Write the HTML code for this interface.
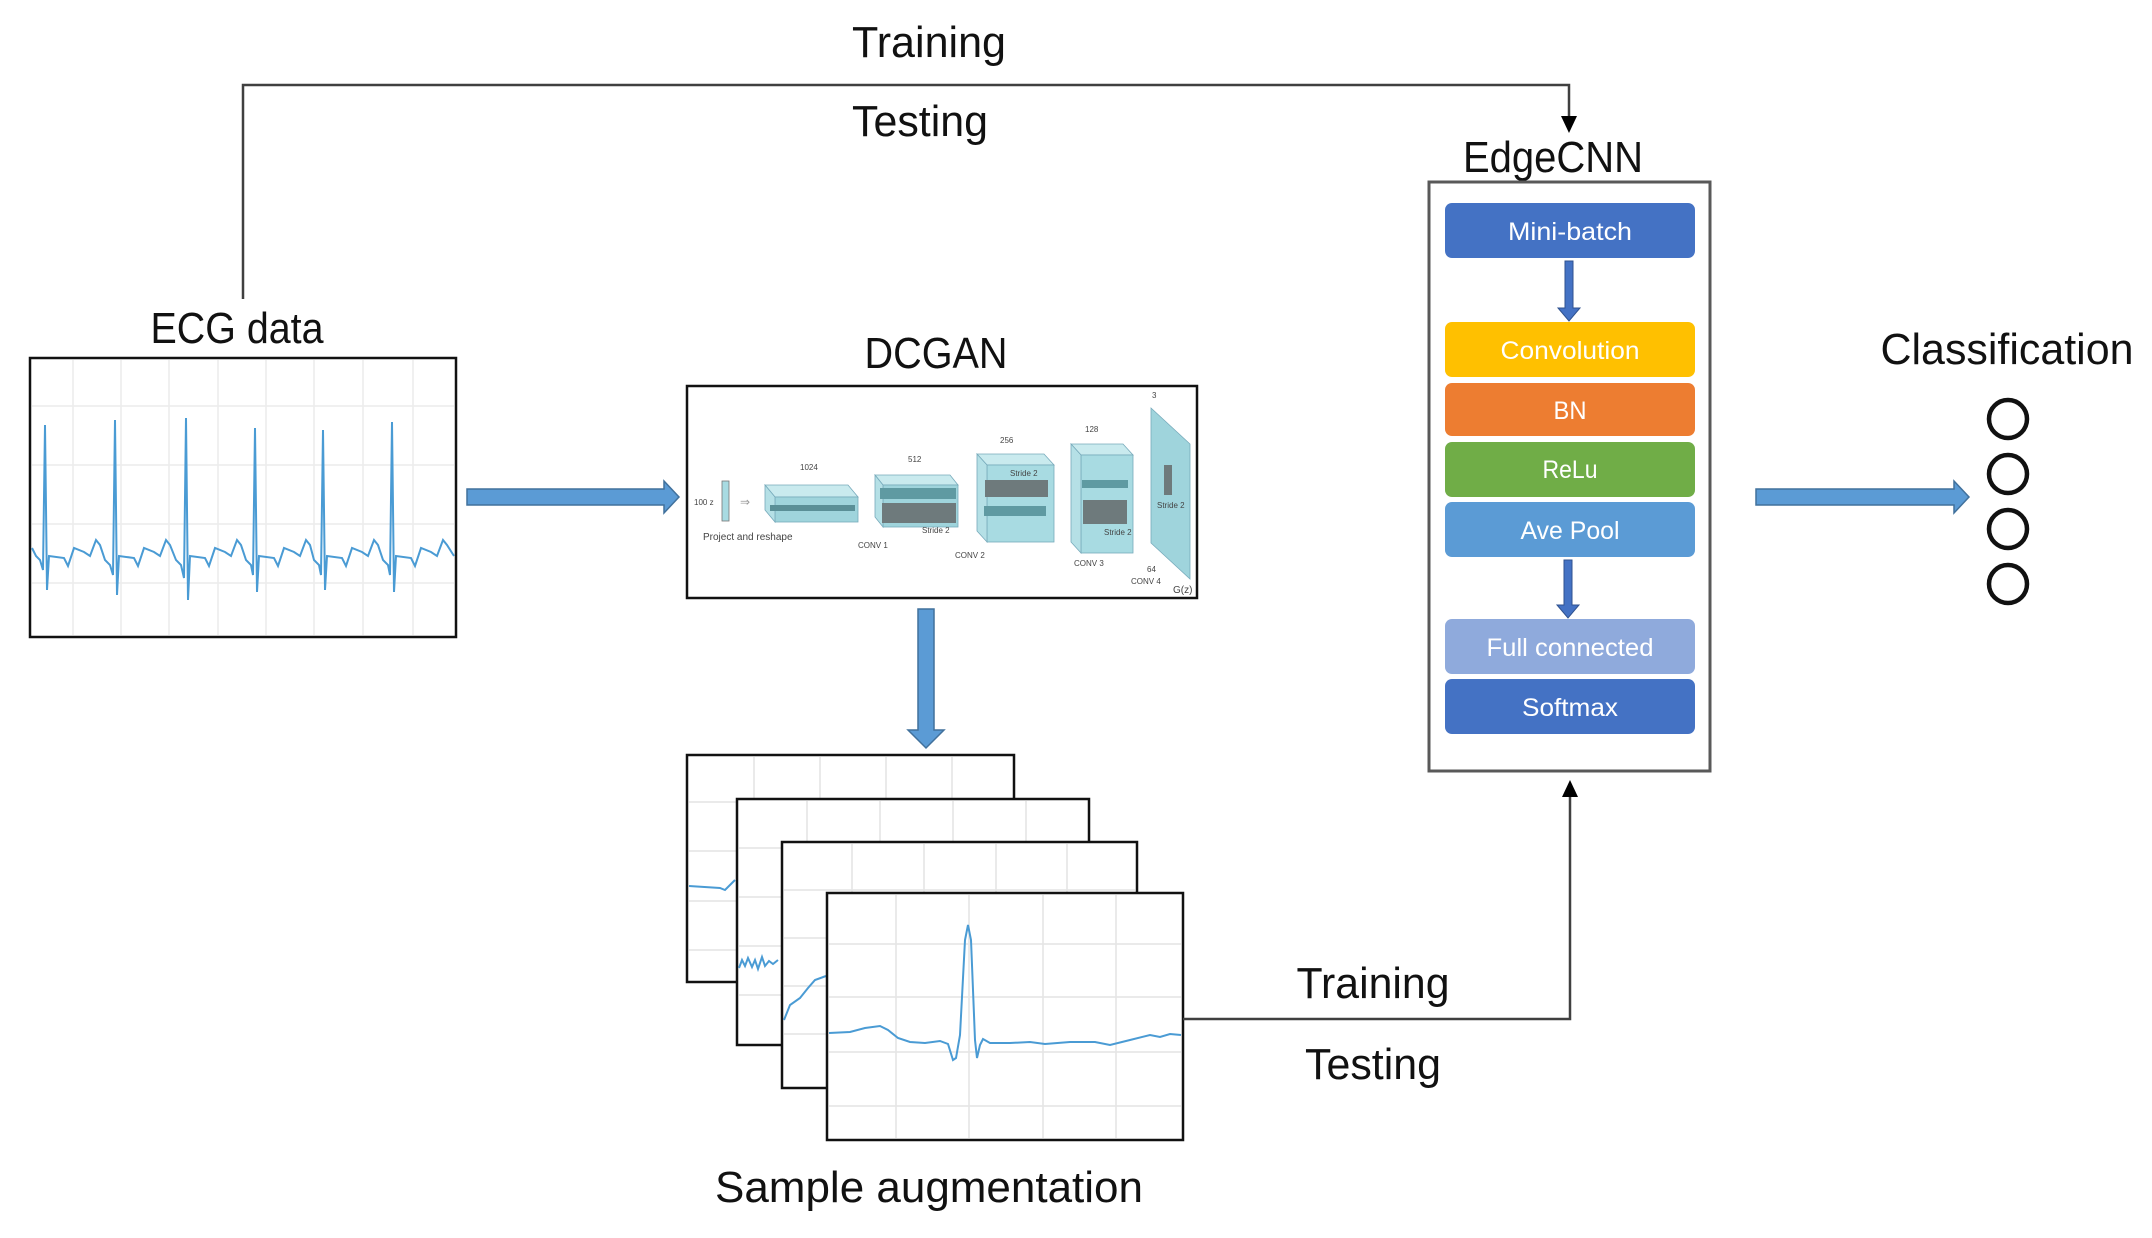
<!DOCTYPE html>
<html><head><meta charset="utf-8">
<style>
html,body{margin:0;padding:0;background:#fff;}
body{width:2152px;height:1238px;position:relative;overflow:hidden;font-family:"Liberation Sans","DejaVu Sans",sans-serif;}
svg{position:absolute;left:0;top:0;}
</style></head>
<body>
<svg width="2152" height="1238" viewBox="0 0 2152 1238" xmlns="http://www.w3.org/2000/svg" font-family="Liberation Sans, DejaVu Sans, sans-serif">
<!-- top connector -->
<polyline points="243,299 243,85 1569,85 1569,118" fill="none" stroke="#404040" stroke-width="2.5"/>
<polygon points="1561,116 1577,116 1569,133" fill="#000"/>
<text x="929" y="57" font-size="44" text-anchor="middle" fill="#111" textLength="154" lengthAdjust="spacingAndGlyphs">Training</text>
<text x="920" y="136" font-size="44" text-anchor="middle" fill="#111" textLength="136" lengthAdjust="spacingAndGlyphs">Testing</text>

<!-- ECG data -->
<text x="237" y="343" font-size="44" text-anchor="middle" fill="#111" textLength="173" lengthAdjust="spacingAndGlyphs">ECG data</text>
<rect x="30" y="358" width="426" height="279" fill="#fff" stroke="#111" stroke-width="2.5"/>
<g stroke="#ececec" stroke-width="1.5">
<line x1="73" y1="360" x2="73" y2="635"/><line x1="121" y1="360" x2="121" y2="635"/><line x1="169" y1="360" x2="169" y2="635"/><line x1="218" y1="360" x2="218" y2="635"/><line x1="266" y1="360" x2="266" y2="635"/><line x1="314" y1="360" x2="314" y2="635"/><line x1="363" y1="360" x2="363" y2="635"/><line x1="413" y1="360" x2="413" y2="635"/>
<line x1="32" y1="406" x2="454" y2="406"/><line x1="32" y1="465" x2="454" y2="465"/><line x1="32" y1="524" x2="454" y2="524"/><line x1="32" y1="583" x2="454" y2="583"/>
</g>
<polyline fill="none" stroke="#4a9bd4" stroke-width="2" points="32,548 36,556 40,560 43,570 45,425 47,590 49,556 64,558 68,566 74,548 84,552 90,556 96,540 100,545 105,560 110,565 113,575 115,420 117,595 119,556 134,558 138,566 144,548 154,552 160,556 166,540 170,545 176,560 181,565 184,578 186,418 188,600 190,556 205,558 209,566 215,548 225,552 231,556 237,540 241,545 246,560 251,565 253,575 255,428 257,592 259,556 274,558 278,566 284,548 294,552 300,556 306,540 310,545 314,560 319,565 321,575 323,430 325,590 327,556 342,558 346,566 352,548 362,552 368,556 374,540 378,545 383,560 388,565 390,575 392,422 394,592 396,556 411,558 415,566 421,548 431,552 437,556 443,540 447,545 454,556"/>

<!-- arrow ECG -> DCGAN -->
<polygon points="467,489 664,489 664,481 679,497 664,513 664,505 467,505" fill="#5b9bd5" stroke="#41719c" stroke-width="1.5"/>

<!-- DCGAN -->
<text x="936" y="368" font-size="44" text-anchor="middle" fill="#111" textLength="143" lengthAdjust="spacingAndGlyphs">DCGAN</text>
<rect x="687" y="386" width="510" height="212" fill="#fff" stroke="#111" stroke-width="2.5"/>
<g font-size="8" fill="#444">
<text x="694" y="505">100 z</text>
<rect x="722" y="481" width="7" height="40" fill="#a8dbe2" stroke="#777" stroke-width="0.8"/>
<text x="740" y="506" font-size="12" fill="#999">⇒</text>
<text x="703" y="540" font-size="10">Project and reshape</text>
<polygon points="765,485 848,485 858,497 775,497" fill="#c9eaee" stroke="#7ab" stroke-width="0.8"/>
<rect x="775" y="497" width="83" height="25" fill="#9fd4dc" stroke="#7ab" stroke-width="0.8"/>
<polygon points="765,485 775,497 775,522 765,510" fill="#b5e0e6" stroke="#7ab" stroke-width="0.8"/>
<rect x="770" y="505" width="85" height="6" fill="#5a8f97"/>
<text x="800" y="470">1024</text>
<polygon points="875,475 950,475 958,485 883,485" fill="#c9eaee" stroke="#7ab" stroke-width="0.8"/>
<rect x="883" y="485" width="75" height="42" fill="#9fd4dc" stroke="#7ab" stroke-width="0.8"/>
<polygon points="875,475 883,485 883,527 875,517" fill="#b5e0e6" stroke="#7ab" stroke-width="0.8"/>
<rect x="880" y="488" width="76" height="11" fill="#5f9aa2"/>
<rect x="882" y="503" width="74" height="20" fill="#6e7a7c"/>
<text x="908" y="462">512</text><text x="922" y="533">Stride 2</text><text x="858" y="548">CONV 1</text>
<polygon points="977,454 1044,454 1054,465 987,465" fill="#c9eaee" stroke="#7ab" stroke-width="0.8"/>
<rect x="987" y="465" width="67" height="77" fill="#a8dbe2" stroke="#7ab" stroke-width="0.8"/>
<polygon points="977,454 987,465 987,542 977,531" fill="#b5e0e6" stroke="#7ab" stroke-width="0.8"/>
<rect x="985" y="480" width="63" height="17" fill="#6e7a7c"/>
<rect x="984" y="506" width="62" height="10" fill="#5f9aa2"/>
<text x="1000" y="443">256</text><text x="1010" y="476">Stride 2</text><text x="955" y="558">CONV 2</text>
<polygon points="1071,444 1123,444 1133,455 1081,455" fill="#c9eaee" stroke="#7ab" stroke-width="0.8"/>
<rect x="1081" y="455" width="52" height="98" fill="#a8dbe2" stroke="#7ab" stroke-width="0.8"/>
<polygon points="1071,444 1081,455 1081,553 1071,542" fill="#b5e0e6" stroke="#7ab" stroke-width="0.8"/>
<rect x="1082" y="480" width="46" height="8" fill="#5f9aa2"/>
<rect x="1083" y="500" width="44" height="24" fill="#6e7a7c"/>
<text x="1085" y="432">128</text><text x="1104" y="535">Stride 2</text><text x="1074" y="566">CONV 3</text>
<polygon points="1151,408 1190,444 1190,579 1151,543" fill="#9fd4dc" stroke="#7ab" stroke-width="0.8"/>
<rect x="1164" y="465" width="8" height="30" fill="#6e7a7c"/>
<text x="1152" y="398">3</text><text x="1157" y="508">Stride 2</text><text x="1147" y="572">64</text><text x="1131" y="584">CONV 4</text>
<text x="1173" y="593" font-size="10">G(z)</text>
</g>

<!-- down arrow -->
<polygon points="918,609 934,609 934,730 944,730 926,748 908,730 918,730" fill="#5b9bd5" stroke="#41719c" stroke-width="1.5"/>

<!-- sample stack -->
<rect x="687" y="755" width="327" height="227" fill="#fff" stroke="#111" stroke-width="2.5"/>
<g stroke="#e4e4e4" stroke-width="1.5">
<line x1="754" y1="757" x2="754" y2="980"/><line x1="820" y1="757" x2="820" y2="980"/><line x1="886" y1="757" x2="886" y2="980"/><line x1="952" y1="757" x2="952" y2="980"/>
<line x1="689" y1="802" x2="1012" y2="802"/><line x1="689" y1="851" x2="1012" y2="851"/><line x1="689" y1="901" x2="1012" y2="901"/><line x1="689" y1="950" x2="1012" y2="950"/>
</g>
<polyline points="689,886 720,888 725,890 735,880" fill="none" stroke="#4a9bd4" stroke-width="2"/>
<rect x="737" y="799" width="352" height="246" fill="#fff" stroke="#111" stroke-width="2.5"/>
<g stroke="#e4e4e4" stroke-width="1.5">
<line x1="807" y1="801" x2="807" y2="1043"/><line x1="880" y1="801" x2="880" y2="1043"/><line x1="953" y1="801" x2="953" y2="1043"/><line x1="1026" y1="801" x2="1026" y2="1043"/>
<line x1="739" y1="848" x2="1087" y2="848"/><line x1="739" y1="897" x2="1087" y2="897"/><line x1="739" y1="946" x2="1087" y2="946"/><line x1="739" y1="995" x2="1087" y2="995"/>
</g>
<polyline points="739,968 742,960 745,966 748,958 752,967 755,960 758,969 762,957 765,966 769,961 773,964 778,960" fill="none" stroke="#4a9bd4" stroke-width="2"/>
<rect x="782" y="842" width="355" height="246" fill="#fff" stroke="#111" stroke-width="2.5"/>
<g stroke="#e4e4e4" stroke-width="1.5">
<line x1="852" y1="844" x2="852" y2="1086"/><line x1="924" y1="844" x2="924" y2="1086"/><line x1="996" y1="844" x2="996" y2="1086"/><line x1="1067" y1="844" x2="1067" y2="1086"/>
<line x1="784" y1="890" x2="1135" y2="890"/><line x1="784" y1="938" x2="1135" y2="938"/><line x1="784" y1="986" x2="1135" y2="986"/><line x1="784" y1="1034" x2="1135" y2="1034"/>
</g>
<polyline points="784,1020 790,1005 800,998 808,988 815,980 826,976" fill="none" stroke="#4a9bd4" stroke-width="2"/>
<rect x="827" y="893" width="356" height="247" fill="#fff" stroke="#111" stroke-width="2.5"/>
<g stroke="#e4e4e4" stroke-width="1.5">
<line x1="896" y1="895" x2="896" y2="1138"/><line x1="969" y1="895" x2="969" y2="1138"/><line x1="1043" y1="895" x2="1043" y2="1138"/><line x1="1116" y1="895" x2="1116" y2="1138"/>
<line x1="829" y1="944" x2="1181" y2="944"/><line x1="829" y1="997" x2="1181" y2="997"/><line x1="829" y1="1052" x2="1181" y2="1052"/><line x1="829" y1="1106" x2="1181" y2="1106"/>
</g>
<polyline points="829,1033 850,1032 865,1028 880,1026 888,1030 898,1038 910,1042 925,1043 940,1041 948,1044 953,1060 956,1058 960,1035 965,940 968,925 971,940 975,1040 977,1058 980,1045 983,1039 990,1043 1010,1043 1030,1042 1045,1044 1070,1042 1095,1042 1110,1045 1130,1040 1150,1035 1160,1037 1170,1034 1181,1035" fill="none" stroke="#4a9bd4" stroke-width="2"/>
<text x="929" y="1202" font-size="44" text-anchor="middle" fill="#111" textLength="428" lengthAdjust="spacingAndGlyphs">Sample augmentation</text>

<!-- bottom connector -->
<polyline points="1183,1019 1570,1019 1570,795" fill="none" stroke="#404040" stroke-width="2.5"/>
<polygon points="1562,797 1578,797 1570,780" fill="#000"/>
<text x="1373" y="998" font-size="44" text-anchor="middle" fill="#111" textLength="153" lengthAdjust="spacingAndGlyphs">Training</text>
<text x="1373" y="1079" font-size="44" text-anchor="middle" fill="#111" textLength="136" lengthAdjust="spacingAndGlyphs">Testing</text>

<!-- EdgeCNN -->
<text x="1553" y="172" font-size="44" text-anchor="middle" fill="#111" textLength="180" lengthAdjust="spacingAndGlyphs">EdgeCNN</text>
<rect x="1429" y="182" width="281" height="589" fill="#fff" stroke="#595959" stroke-width="3"/>
<g font-size="25" text-anchor="middle" fill="#fff">
<rect x="1445" y="203" width="250" height="55" rx="7" fill="#4472c4"/><text x="1570" y="240" textLength="124" lengthAdjust="spacingAndGlyphs">Mini-batch</text>
<rect x="1445" y="322" width="250" height="55" rx="7" fill="#ffc000"/><text x="1570" y="359" textLength="139" lengthAdjust="spacingAndGlyphs">Convolution</text>
<rect x="1445" y="383" width="250" height="53" rx="7" fill="#ed7d31"/><text x="1570" y="419" textLength="33" lengthAdjust="spacingAndGlyphs">BN</text>
<rect x="1445" y="442" width="250" height="55" rx="7" fill="#70ad47"/><text x="1570" y="478" textLength="55" lengthAdjust="spacingAndGlyphs">ReLu</text>
<rect x="1445" y="502" width="250" height="55" rx="7" fill="#5b9bd5"/><text x="1570" y="539" textLength="99" lengthAdjust="spacingAndGlyphs">Ave Pool</text>
<rect x="1445" y="619" width="250" height="55" rx="7" fill="#8faadc"/><text x="1570" y="656" textLength="167" lengthAdjust="spacingAndGlyphs">Full connected</text>
<rect x="1445" y="679" width="250" height="55" rx="7" fill="#4472c4"/><text x="1570" y="716" textLength="96" lengthAdjust="spacingAndGlyphs">Softmax</text>
</g>
<polygon points="1565,261 1573,261 1573,308 1580,308 1569,321 1558,308 1565,308" fill="#4472c4" stroke="#2f528f" stroke-width="1"/>
<polygon points="1564,560 1572,560 1572,605 1579,605 1568,618 1557,605 1564,605" fill="#4472c4" stroke="#2f528f" stroke-width="1"/>

<!-- right arrow -->
<polygon points="1756,489 1954,489 1954,481 1969,497 1954,513 1954,505 1756,505" fill="#5b9bd5" stroke="#41719c" stroke-width="1.5"/>
<text x="2007" y="364" font-size="44" text-anchor="middle" fill="#111" textLength="253" lengthAdjust="spacingAndGlyphs">Classification</text>
<g fill="none" stroke="#111" stroke-width="4.5">
<circle cx="2008" cy="419" r="19"/><circle cx="2008" cy="474" r="19"/><circle cx="2008" cy="529" r="19"/><circle cx="2008" cy="584" r="19"/>
</g>
</svg>
</body></html>
